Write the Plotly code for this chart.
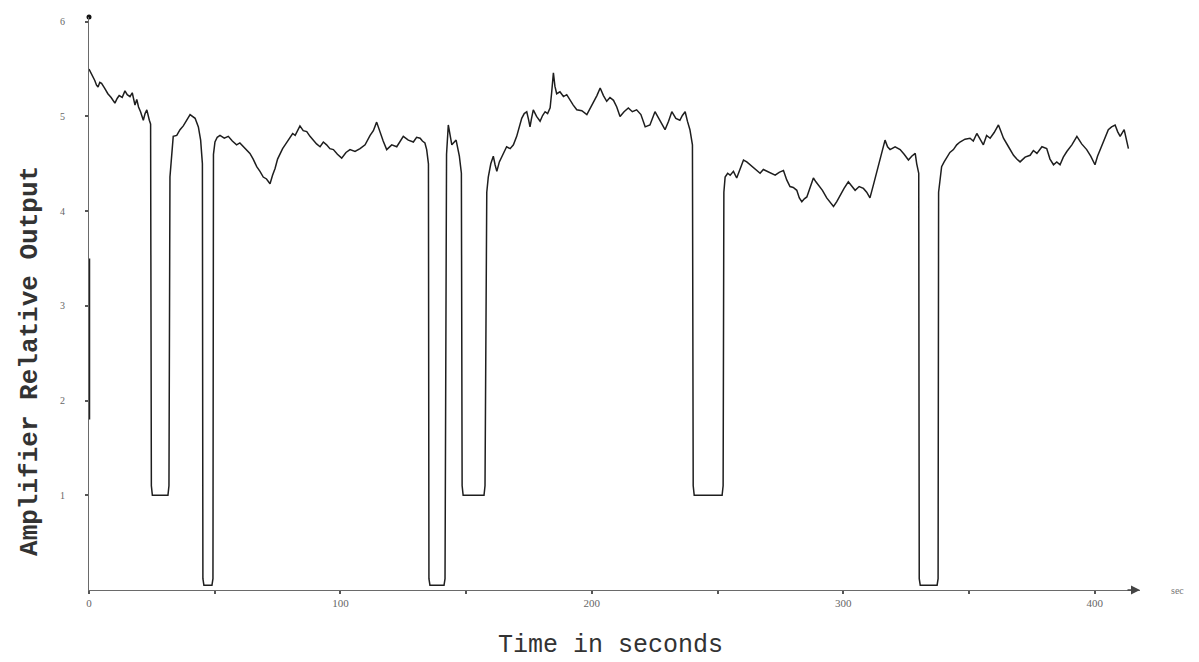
import plotly.graph_objects as go

# Readings (time in s, amplifier relative output) per stretch of the trace
seg_start = [(0, 5.50), (0.8, 5.46), (1.5, 5.42), (2.3, 5.38), (3.0, 5.33), (3.6, 5.31), (4.3, 5.36),
             (5, 5.35), (6.2, 5.30), (7.5, 5.24), (8.8, 5.20), (10.3, 5.14), (11.2, 5.19), (12, 5.22),
             (13.2, 5.20), (14.3, 5.27), (15.2, 5.23), (16.3, 5.21), (17.2, 5.25), (18.3, 5.12),
             (19, 5.18), (19.7, 5.10), (20.5, 5.05), (21.6, 4.96), (22.3, 5.03), (23, 5.07),
             (24, 4.96), (24.5, 4.92)]
dip_1 = [(24.8, 1.1), (25.2, 1.0), (31.4, 1.0), (31.8, 1.1)]
seg_2 = [(32.2, 4.36), (33.5, 4.79), (34.9, 4.80), (36.2, 4.86), (37.5, 4.9), (38.9, 4.96),
         (40.2, 5.02), (42.2, 4.98), (43.5, 4.89), (44.4, 4.75), (45.1, 4.5)]
dip_2 = [(45.3, 0.12), (45.7, 0.05), (48.9, 0.05), (49.3, 0.12)]
seg_3 = [(49.5, 4.6), (50.1, 4.73), (51.0, 4.78), (52.1, 4.80), (53.8, 4.77), (55.4, 4.79),
         (57.0, 4.74), (58.7, 4.70), (60.0, 4.72), (61.4, 4.68), (62.7, 4.64), (64, 4.61),
         (65.3, 4.55), (66.7, 4.47), (68.0, 4.42), (69.3, 4.36), (70.6, 4.34), (72, 4.29),
         (73, 4.38), (74, 4.45), (75, 4.55), (76, 4.61), (77, 4.66), (78, 4.70), (79, 4.74),
         (80, 4.77), (81, 4.82), (82, 4.80), (83, 4.86), (83.9, 4.90), (85.2, 4.85), (86.6, 4.84),
         (87.9, 4.79), (89.2, 4.75), (90.5, 4.71), (91.9, 4.68), (93.2, 4.73), (94.5, 4.70),
         (95.8, 4.66), (97.2, 4.65), (98.8, 4.60), (100.5, 4.56), (102.2, 4.62), (103.8, 4.65),
         (105.8, 4.63), (107.8, 4.66), (109.8, 4.70), (111.8, 4.80), (113.1, 4.85), (114.4, 4.94),
         (115.7, 4.83), (117.0, 4.74), (118.4, 4.65), (120.4, 4.70), (122.4, 4.68), (123.7, 4.74),
         (125, 4.79), (127, 4.75), (129, 4.73), (130.3, 4.78), (131.7, 4.77), (132.6, 4.74),
         (133.6, 4.72), (134.3, 4.65), (135.0, 4.5)]
dip_3 = [(135.2, 0.12), (135.6, 0.05), (141.2, 0.05), (141.6, 0.12)]
seg_4 = [(142.2, 4.6), (142.9, 4.91), (144.3, 4.70), (146, 4.75), (147.3, 4.58), (148.1, 4.4)]
dip_4 = [(148.4, 1.1), (148.8, 1.0), (157.1, 1.0), (157.5, 1.1)]
seg_5 = [(158.2, 4.2), (158.8, 4.36), (159.8, 4.50), (160.8, 4.58), (161.5, 4.49), (162.2, 4.42),
         (163.2, 4.52), (164.2, 4.58), (165.1, 4.63), (166.1, 4.68), (167.5, 4.66), (168.8, 4.70),
         (170.1, 4.79), (171.1, 4.88), (172.1, 4.98), (173.1, 5.03), (174.1, 5.05), (174.8, 4.97),
         (175.4, 4.89), (176.0, 4.98), (176.7, 5.07), (178.0, 5.00), (179.4, 4.95), (180.4, 5.01),
         (181.4, 5.05), (182.4, 5.03), (183.4, 5.09), (184.0, 5.25), (184.7, 5.46), (185.3, 5.32),
         (186, 5.24), (187.3, 5.26), (188.7, 5.21), (190, 5.23), (191.3, 5.17), (192.6, 5.12),
         (194, 5.07), (196, 5.06), (198, 5.02), (199.3, 5.08), (200.6, 5.14), (202, 5.22),
         (203.3, 5.30), (204.6, 5.22), (205.9, 5.16), (207.2, 5.20), (208.6, 5.17), (209.9, 5.10),
         (211.2, 5.0), (212.8, 5.05), (214.5, 5.09), (216.1, 5.05), (217.8, 5.07), (219.5, 5.02),
         (221.2, 4.89), (223.1, 4.91), (225.1, 5.05), (227.1, 4.95), (229.1, 4.86), (230.5, 4.95),
         (231.8, 5.05), (233.4, 4.98), (235, 4.96), (236, 5.01), (237.1, 5.05), (238, 4.95),
         (239, 4.86), (240, 4.7)]
dip_5 = [(240.3, 1.1), (240.7, 1.0), (251.8, 1.0), (252.2, 1.1)]
seg_6 = [(252.5, 4.2), (253, 4.36), (254, 4.40), (255, 4.38), (256.3, 4.42), (257.6, 4.35),
         (259, 4.45), (260.3, 4.54), (261.6, 4.52), (262.9, 4.49), (264.9, 4.45), (266.9, 4.40),
         (268.2, 4.44), (269.6, 4.42), (271.2, 4.40), (272.9, 4.38), (274.5, 4.41), (276.2, 4.43),
         (277.5, 4.33), (278.8, 4.26), (280.1, 4.25), (281.5, 4.22), (282.5, 4.14), (283.5, 4.10),
         (284.5, 4.13), (285.5, 4.15), (286.8, 4.25), (288.1, 4.35), (289.1, 4.31), (290.1, 4.28),
         (291.7, 4.22), (293.4, 4.14), (294.7, 4.10), (296.1, 4.05), (297.4, 4.10), (298.7, 4.17),
         (300.3, 4.24), (302, 4.31), (303.3, 4.26), (304.7, 4.22), (306.3, 4.26), (308, 4.24),
         (309.3, 4.20), (310.6, 4.14), (312, 4.28), (313.3, 4.42), (315, 4.60), (316.6, 4.75),
         (317.6, 4.68), (318.6, 4.65), (320.6, 4.68), (322.6, 4.65), (324.2, 4.60), (325.9, 4.54),
         (327.2, 4.58), (328.6, 4.61), (329.2, 4.50), (330, 4.4)]
dip_6 = [(330.2, 0.12), (330.6, 0.05), (337.3, 0.05), (337.7, 0.12)]
seg_7 = [(337.9, 4.2), (339.1, 4.47), (340.1, 4.52), (341.1, 4.56), (342.4, 4.62), (343.8, 4.65),
         (345.1, 4.70), (346.4, 4.73), (348.4, 4.76), (350.4, 4.77), (351.7, 4.74), (353.1, 4.82),
         (354.4, 4.76), (355.7, 4.70), (357, 4.80), (358.4, 4.77), (360, 4.83), (361.7, 4.91),
         (362.7, 4.84), (363.7, 4.77), (365.7, 4.68), (367.7, 4.59), (369, 4.55), (370.3, 4.52),
         (372.3, 4.57), (374.3, 4.59), (375.6, 4.64), (377, 4.61), (379, 4.68), (380.9, 4.66),
         (382.2, 4.55), (383.6, 4.49), (384.9, 4.52), (386.2, 4.49), (387.5, 4.57), (388.9, 4.63),
         (390.9, 4.70), (392.9, 4.79), (394.8, 4.71), (396.8, 4.65), (398.4, 4.58), (400.1, 4.49),
         (401.1, 4.58), (402.1, 4.65), (403.7, 4.76), (405.4, 4.86), (406.7, 4.89), (408.1, 4.91),
         (409.1, 4.84), (410.1, 4.79), (411.7, 4.86), (413.4, 4.66)]

segments = [seg_start, dip_1, seg_2, dip_2, seg_3, dip_3, seg_4, dip_4, seg_5, dip_5, seg_6, dip_6, seg_7]
time_s = [t for seg in segments for t, _ in seg]
output = [v for seg in segments for _, v in seg]

x_tick_vals = [0, 50, 100, 150, 200, 250, 300, 350, 400]
x_tick_text = ["0", "", "100", "", "200", "", "300", "", "400"]
y_tick_vals = [1, 2, 3, 4, 5, 6]
y_tick_text = ["1", "2", "3", "4", "5", "6"]

# dark pen mark along the y axis
mark_t = [0, 0]
mark_v = [1.8, 3.5]

fig = go.Figure()
fig.add_trace(go.Scatter(x=time_s, y=output, mode="lines",
                         line=dict(color="#1e1e1e", width=1.5), showlegend=False))
fig.add_trace(go.Scatter(x=mark_t, y=mark_v, mode="lines",
                         line=dict(color="#222", width=2.5), showlegend=False, cliponaxis=False))
fig.add_trace(go.Scatter(x=[0], y=[6.05], mode="markers",
                         marker=dict(color="#111", size=5), showlegend=False, cliponaxis=False))

fig.update_layout(
    width=1199, height=662,
    margin=dict(l=89, r=59, t=17, b=72),
    paper_bgcolor="white", plot_bgcolor="white",
    xaxis=dict(range=[0, 418], showgrid=False, zeroline=False,
               showline=True, linecolor="#6a6a6a", linewidth=1.2,
               tickvals=x_tick_vals, ticktext=x_tick_text,
               ticks="outside", ticklen=3, tickcolor="#555", tickwidth=1.5,
               tickfont=dict(family="Liberation Serif", size=11, color="#666")),
    yaxis=dict(range=[0, 6.05], showgrid=False, zeroline=False,
               showline=True, linecolor="#6a6a6a", linewidth=1.2,
               tickvals=y_tick_vals, ticktext=y_tick_text,
               ticks="outside", ticklen=3, tickcolor="#555", tickwidth=1.5,
               ticklabelstandoff=18,
               tickfont=dict(family="Liberation Serif", size=10, color="#666")),
    annotations=[
        dict(text="Time in seconds", xref="paper", yref="paper", x=0.496, y=-0.096,
             xanchor="center", yanchor="middle", showarrow=False,
             font=dict(family="Liberation Mono", size=25, color="#333")),
        dict(text="<b>Amplifier Relative Output</b>", xref="paper", yref="paper",
             x=-0.056, y=0.40, xanchor="center", yanchor="middle", textangle=-90,
             showarrow=False, font=dict(family="Liberation Mono", size=26, color="#333")),
        dict(text="sec", xref="paper", yref="paper", x=1.028, y=0.0,
             xanchor="left", yanchor="middle", showarrow=False,
             font=dict(family="Liberation Serif", size=10, color="#777")),
        dict(x=418, y=0, xref="x", yref="y", ax=-14, ay=0, showarrow=True,
             arrowhead=2, arrowsize=1.2, arrowwidth=1.5, arrowcolor="#444", text=""),
    ],
)

fig.write_html("out.html")
